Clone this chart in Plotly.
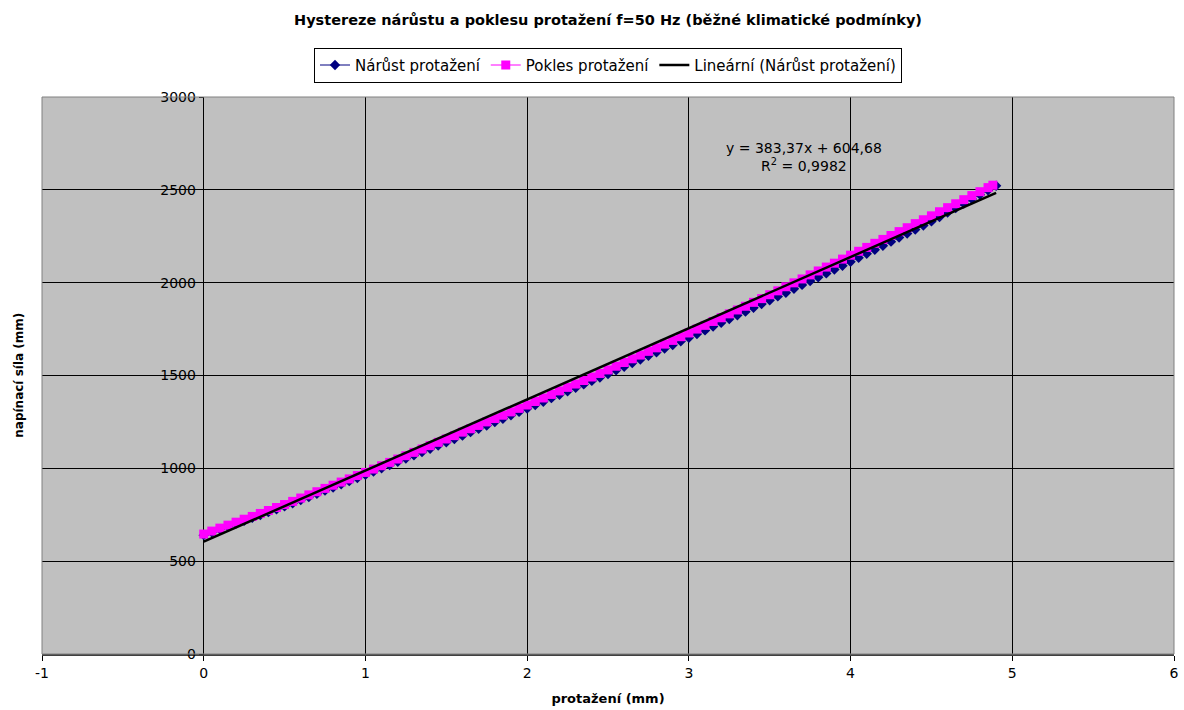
import plotly.graph_objects as go

# Nárůst protažení (increase)
narust_x = [0.00, 0.05, 0.10, 0.15, 0.20, 0.25, 0.30, 0.35, 0.40, 0.45,
            0.50, 0.55, 0.60, 0.65, 0.70, 0.75, 0.80, 0.85, 0.90, 0.95,
            1.00, 1.05, 1.10, 1.15, 1.20, 1.25, 1.30, 1.35, 1.40, 1.45,
            1.50, 1.55, 1.60, 1.65, 1.70, 1.75, 1.80, 1.85, 1.90, 1.95,
            2.00, 2.05, 2.10, 2.15, 2.20, 2.25, 2.30, 2.35, 2.40, 2.45,
            2.50, 2.55, 2.60, 2.65, 2.70, 2.75, 2.80, 2.85, 2.90, 2.95,
            3.00, 3.05, 3.10, 3.15, 3.20, 3.25, 3.30, 3.35, 3.40, 3.45,
            3.50, 3.55, 3.60, 3.65, 3.70, 3.75, 3.80, 3.85, 3.90, 3.95,
            4.00, 4.05, 4.10, 4.15, 4.20, 4.25, 4.30, 4.35, 4.40, 4.45,
            4.50, 4.55, 4.60, 4.65, 4.70, 4.75, 4.80, 4.85, 4.90]
narust_y = [640, 656, 671, 687, 702, 718, 733, 749, 764, 780,
            795, 812, 829, 846, 863, 880, 897, 914, 931, 948,
            965, 983, 1000, 1018, 1035, 1053, 1070, 1088, 1105, 1123,
            1140, 1158, 1176, 1195, 1213, 1231, 1249, 1267, 1286, 1304,
            1322, 1341, 1359, 1378, 1396, 1415, 1434, 1452, 1471, 1489,
            1508, 1528, 1547, 1567, 1586, 1606, 1625, 1645, 1664, 1684,
            1703, 1723, 1743, 1764, 1784, 1804, 1824, 1844, 1865, 1885,
            1905, 1926, 1946, 1967, 1988, 2009, 2029, 2050, 2071, 2091,
            2112, 2134, 2156, 2177, 2199, 2221, 2243, 2265, 2286, 2308,
            2330, 2354, 2378, 2402, 2426, 2450, 2474, 2498, 2522]

# Pokles protažení (decrease)
pokles_x = [4.88, 4.85, 4.80, 4.75, 4.70, 4.65, 4.60, 4.55,
            4.50, 4.45, 4.40, 4.35, 4.30, 4.25, 4.20, 4.15, 4.10, 4.05,
            4.00, 3.95, 3.90, 3.85, 3.80, 3.75, 3.70, 3.65, 3.60, 3.55,
            3.50, 3.45, 3.40, 3.35, 3.30, 3.25, 3.20, 3.15, 3.10, 3.05,
            3.00, 2.95, 2.90, 2.85, 2.80, 2.75, 2.70, 2.65, 2.60, 2.55,
            2.50, 2.45, 2.40, 2.35, 2.30, 2.25, 2.20, 2.15, 2.10, 2.05,
            2.00, 1.95, 1.90, 1.85, 1.80, 1.75, 1.70, 1.65, 1.60, 1.55,
            1.50, 1.45, 1.40, 1.35, 1.30, 1.25, 1.20, 1.15, 1.10, 1.05,
            1.00, 0.95, 0.90, 0.85, 0.80, 0.75, 0.70, 0.65, 0.60, 0.55,
            0.50, 0.45, 0.40, 0.35, 0.30, 0.25, 0.20, 0.15, 0.10, 0.05, 0.00]
pokles_y = [2525, 2512, 2490, 2469, 2447, 2425, 2404, 2382,
            2360, 2339, 2318, 2296, 2275, 2254, 2233, 2212, 2190, 2169,
            2148, 2127, 2105, 2084, 2063, 2042, 2020, 1999, 1978, 1956,
            1935, 1914, 1894, 1873, 1853, 1832, 1811, 1791, 1770, 1750,
            1729, 1709, 1689, 1669, 1649, 1630, 1610, 1590, 1570, 1550,
            1530, 1511, 1492, 1473, 1454, 1436, 1417, 1398, 1379, 1360,
            1341, 1323, 1304, 1286, 1268, 1250, 1231, 1213, 1195, 1176,
            1158, 1140, 1122, 1104, 1086, 1068, 1050, 1032, 1014, 996,
            978, 961, 943, 926, 909, 892, 874, 857, 840, 822,
            805, 789, 773, 757, 741, 726, 710, 694, 678, 662, 646]

# Lineární (Nárůst protažení): y = 383,37x + 604,68
trend_slope = 383.37
trend_intercept = 604.68
trend_x = [0.0, 4.9]

x_ticks = [-1, 0, 1, 2, 3, 4, 5, 6]
x_ticktext = ["-1", "0", "1", "2", "3", "4", "5", "6"]
y_ticks = [0, 500, 1000, 1500, 2000, 2500, 3000]

FONT = "DejaVu Sans, sans-serif"

fig = go.Figure()

fig.add_trace(go.Scatter(
    x=narust_x, y=narust_y, name="Nárůst protažení",
    mode="lines+markers",
    line=dict(color="#000080", width=1),
    marker=dict(symbol="diamond", size=8, color="#000080"),
))
fig.add_trace(go.Scatter(
    x=pokles_x, y=pokles_y, name="Pokles protažení",
    mode="lines+markers",
    line=dict(color="#FF00FF", width=1),
    marker=dict(symbol="square", size=9, color="#FF00FF"),
))
fig.add_trace(go.Scatter(
    x=trend_x, y=[trend_slope * v + trend_intercept for v in trend_x],
    name="Lineární (Nárůst protažení)",
    mode="lines",
    line=dict(color="black", width=2.5),
))

fig.add_annotation(
    x=3.71, y=2677, xref="x", yref="y",
    text="y = 383,37x + 604,68<br>R<sup>2</sup> = 0,9982",
    showarrow=False, align="center",
    font=dict(family=FONT, size=14, color="black"),
)

# plot area border
fig.add_shape(type="rect", xref="paper", yref="paper", x0=0, y0=0, x1=1, y1=1,
              line=dict(color="#808080", width=1), layer="above")

fig.update_xaxes(
    range=[-1, 6], tickvals=x_ticks, ticktext=x_ticktext,
    showgrid=True, gridcolor="black", gridwidth=1,
    zeroline=False, showline=True, linecolor="#404040", linewidth=2,
    ticks="outside", ticklen=5, tickcolor="black",
    tickfont=dict(family=FONT, size=14, color="black"),
    title=dict(text="<b>protažení (mm)</b>", font=dict(family=FONT, size=13, color="black"),
               standoff=14),
)
fig.update_yaxes(
    range=[0, 3000], tickvals=y_ticks, showgrid=True, gridcolor="black", gridwidth=1,
    zeroline=False, showline=False,
    anchor="free", position=1 / 7,
    ticks="outside", ticklen=5, tickcolor="black",
    tickfont=dict(family=FONT, size=14, color="black"),
)

fig.add_annotation(
    x=-0.021, xref="paper", y=0.5, yref="paper", text="<b>napínací síla (mm)</b>",
    textangle=-90, showarrow=False, xanchor="center", yanchor="middle",
    font=dict(family=FONT, size=12, color="black"),
)

fig.update_layout(
    width=1184, height=710,
    margin=dict(l=42, r=5, t=97, b=56),
    paper_bgcolor="white", plot_bgcolor="#C0C0C0",
    font=dict(family=FONT, size=12, color="black"),
    title=dict(text="<b>Hystereze nárůstu a poklesu protažení f=50 Hz (běžné klimatické podmínky)</b>",
               x=0.5, xref="paper", xanchor="center", y=1 - 20 / 710, yanchor="middle",
               font=dict(family=FONT, size=14.5, color="black")),
    legend=dict(orientation="h", x=0.5, xanchor="center", y=1.057, yanchor="middle",
                bgcolor="white", bordercolor="black", borderwidth=1,
                font=dict(family=FONT, size=15, color="black"),
                itemwidth=30, tracegroupgap=0),
    showlegend=True,
)

fig.write_html(
    "out.html",
    config={"displayModeBar": False},
    post_script="document.body.style.margin='0px';document.body.style.overflow='hidden';",
)
